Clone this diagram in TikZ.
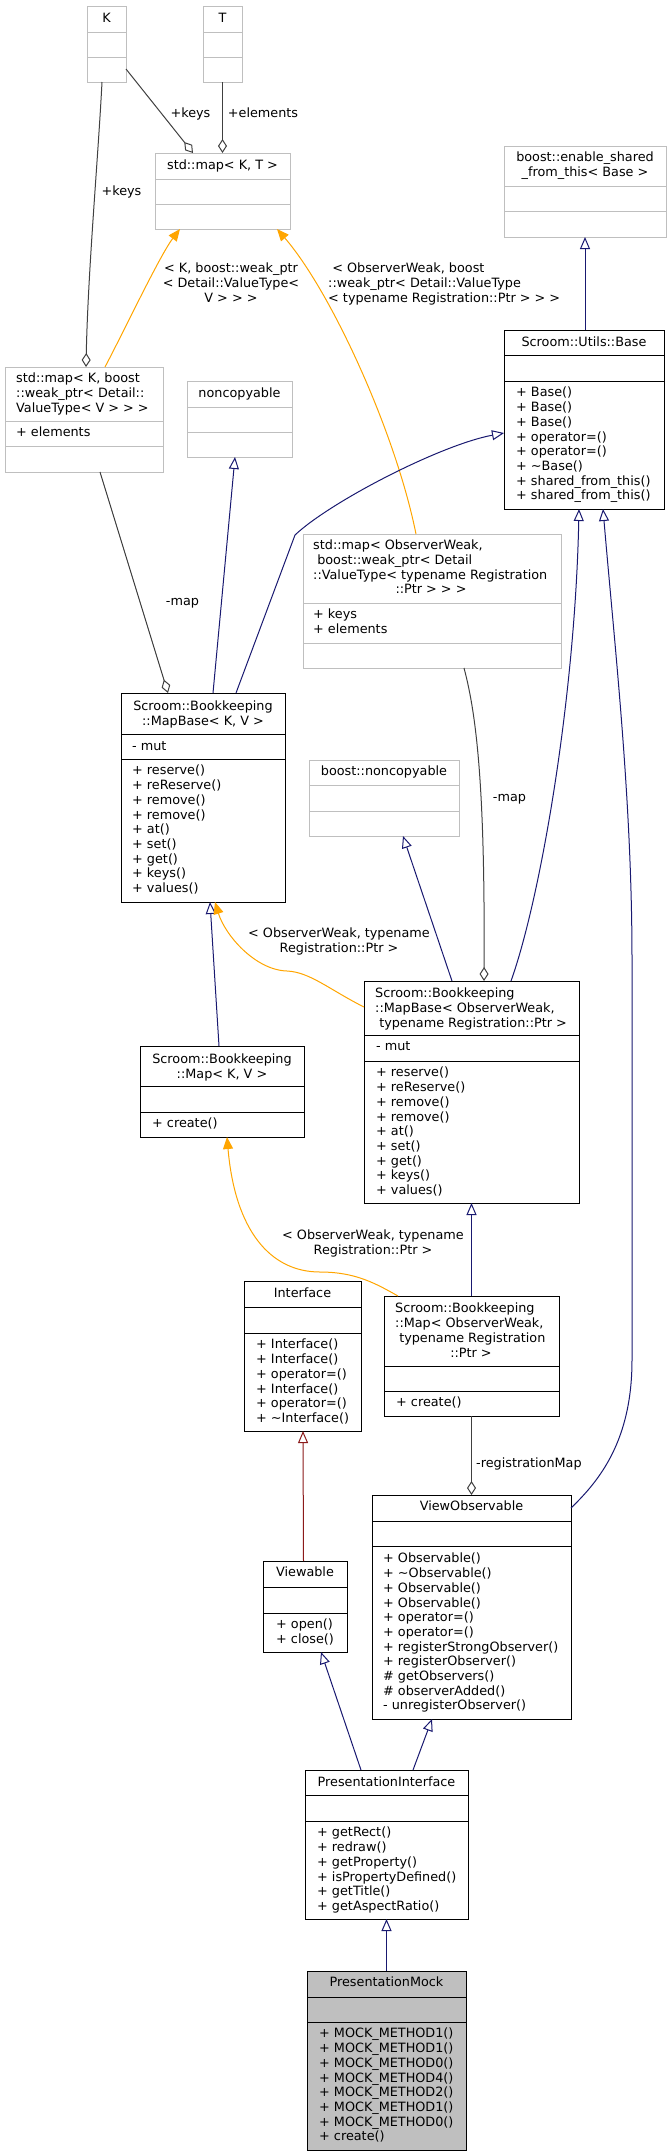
\documentclass[tikz,border=0pt]{standalone}
\usepackage{fontspec}
\setmainfont{DejaVu Sans}
\usetikzlibrary{arrows.meta,fit}
\definecolor{mblue}{HTML}{191970}
\definecolor{usegray}{HTML}{404040}
\definecolor{boxgray}{HTML}{BFBFBF}
\definecolor{tmpl}{HTML}{FFA500}
\definecolor{privred}{HTML}{8B1A1A}
\definecolor{mockfill}{HTML}{BFBFBF}
\newcommand\hs{\rule{0pt}{10pt}}
% #1 fill, #2 name, #3 colour, #4 x1, #5 y1, #6 x2, #7 y2, #8 sep1, #9 sep2
\newcommand\umlcls[9][white]{%
  \node[draw=#3, fill=#1, line width=1pt, inner sep=0pt, outer sep=0pt, fit={(#4,#5) (#6,#7)}] (#2) {};
  \draw[#3, line width=1pt] (#4,#8) -- (#6,#8) (#4,#9) -- (#6,#9);
}
\begin{document}
\begin{tikzpicture}[x=1pt,y=-1pt,
  fnt/.style={font=\fontsize{12.8}{14.7}\selectfont},
  ttl/.style={fnt, anchor=north, align=center, inner sep=0pt},
  ttll/.style={fnt, anchor=north west, align=left, inner sep=0pt},
  mem/.style={fnt, anchor=north west, align=left, inner sep=0pt},
  lbl/.style={fnt, anchor=north, align=center, inner sep=0pt},
  inh/.style={draw=mblue, line width=1pt, -{Triangle[open, length=12pt, width=10pt]}},
  prv/.style={draw=privred, line width=1pt, -{Triangle[open, length=12pt, width=10pt]}},
  tmp/.style={draw=tmpl, line width=1pt, -{Triangle[length=12pt, width=10pt]}},
  use/.style={draw=usegray, line width=1pt, {Diamond[open, length=14pt, width=9pt]}-},
]
\useasboundingbox (0,0) rectangle (671,2153);

% ---------- class boxes ----------
\umlcls{K}{boxgray}{87}{6}{126}{82}{32}{57}
\umlcls{T}{boxgray}{203}{6}{242}{82}{32}{57}
\umlcls{mapKT}{boxgray}{155}{153}{290}{229}{179}{204}
\umlcls{enable}{boxgray}{504}{146}{666}{237}{186}{211}
\umlcls{mapKV}{boxgray}{5}{367}{163}{472}{421}{446}
\umlcls{noncopyable}{boxgray}{187}{381}{292}{457}{407}{432}
\umlcls{Base}{black}{504}{330}{664}{509}{355}{381}
\umlcls{MapBaseKV}{black}{121}{693}{285}{902}{734}{759}
\umlcls{mapOW}{boxgray}{303}{534}{561}{668}{603}{643}
\umlcls{bnon}{boxgray}{309}{760}{459}{836}{785}{811}
\umlcls{MapBaseOW}{black}{364}{981}{579}{1203}{1035}{1061}
\umlcls{MapKV}{black}{140}{1046}{304}{1137}{1086}{1112}
\umlcls{Interface}{black}{244}{1281}{361}{1431}{1307}{1333}
\umlcls{MapOW}{black}{384}{1296}{559}{1416}{1366}{1391}
\umlcls{VO}{black}{372}{1495}{571}{1719}{1521}{1546}
\umlcls{Viewable}{black}{263}{1561}{347}{1652}{1587}{1613}
\umlcls{PI}{black}{305}{1770}{468}{1919}{1795}{1821}
\umlcls[mockfill]{PM}{black}{307}{1971}{466}{2150}{1997}{2022}

% ---------- texts ----------
\node[ttl] (K-t) at (106.5,12.7) {\hs K};
\node[ttl] (T-t) at (222.5,12.7) {\hs T};
\node[ttl] (mapKT-t) at (222.5,159.7) {\hs std::map< K, T >};
\node[ttl] (enable-t) at (585,151.7) {\hs boost::enable\_shared\\\_from\_this< Base >};
\node[ttll] (mapKV-t) at (16,372.7) {\hs std::map< K, boost\\::weak\_ptr< Detail::\\ValueType< V > > >};
\node[mem] (mapKV-m) at (16,426.7) {\hs + elements};
\node[ttl] (noncopyable-t) at (239.5,387.7) {\hs noncopyable};
\node[ttl] (Base-t) at (584,336.7) {\hs Scroom::Utils::Base};
\node[mem] (Base-m) at (516,386.7) {\hs + Base()\\+ Base()\\+ Base()\\+ operator=()\\+ operator=()\\+ \textasciitilde Base()\\+ shared\_from\_this()\\+ shared\_from\_this()};
\node[ttl] (MapBaseKV-t) at (203,700.7) {\hs Scroom::Bookkeeping\\::MapBase< K, V >};
\node[mem] (MapBaseKV-a) at (132,740.7) {\hs - mut};
\node[mem] (MapBaseKV-m) at (132,764.7) {\hs + reserve()\\+ reReserve()\\+ remove()\\+ remove()\\+ at()\\+ set()\\+ get()\\+ keys()\\+ values()};
\node[ttll] (mapOW-t) at (313,539.7) {\hs std::map< ObserverWeak,\\\ boost::weak\_ptr< Detail\\::ValueType< typename Registration};
\node[ttl] (mapOW-t2) at (431,583.7) {\hs ::Ptr > > >};
\node[mem] (mapOW-a) at (313,608.7) {\hs + keys\\+ elements};
\node[ttl] (bnon-t) at (384,765.7) {\hs boost::noncopyable};
\node[ttll] (MapBaseOW-t) at (375,987.7) {\hs Scroom::Bookkeeping\\::MapBase< ObserverWeak,\\\ typename Registration::Ptr >};
\node[mem] (MapBaseOW-a) at (376,1040.7) {\hs - mut};
\node[mem] (MapBaseOW-m) at (376,1066.7) {\hs + reserve()\\+ reReserve()\\+ remove()\\+ remove()\\+ at()\\+ set()\\+ get()\\+ keys()\\+ values()};
\node[ttl] (MapKV-t) at (222,1053.7) {\hs Scroom::Bookkeeping\\::Map< K, V >};
\node[mem] (MapKV-m) at (152,1117.7) {\hs + create()};
\node[ttl] (Interface-t) at (302.5,1287.7) {\hs Interface};
\node[mem] (Interface-m) at (256,1338.7) {\hs + Interface()\\+ Interface()\\+ operator=()\\+ Interface()\\+ operator=()\\+ \textasciitilde Interface()};
\node[ttll] (MapOW-t) at (395,1302.7) {\hs Scroom::Bookkeeping\\::Map< ObserverWeak,\\\ typename Registration};
\node[ttl] (MapOW-t2) at (471,1347) {\hs ::Ptr >};
\node[mem] (MapOW-m) at (396,1396.7) {\hs + create()};
\node[ttl] (VO-t) at (471.5,1500.7) {\hs ViewObservable};
\node[mem] (VO-m) at (383,1552.7) {\hs + Observable()\\+ \textasciitilde Observable()\\+ Observable()\\+ Observable()\\+ operator=()\\+ operator=()\\+ registerStrongObserver()\\+ registerObserver()\\\# getObservers()\\\# observerAdded()\\- unregisterObserver()};
\node[ttl] (Viewable-t) at (305,1566.7) {\hs Viewable};
\node[mem] (Viewable-m) at (276,1618.7) {\hs + open()\\+ close()};
\node[ttl] (PI-t) at (386.5,1776.7) {\hs PresentationInterface};
\node[mem] (PI-m) at (317,1826.7) {\hs + getRect()\\+ redraw()\\+ getProperty()\\+ isPropertyDefined()\\+ getTitle()\\+ getAspectRatio()};
\node[ttl] (PM-t) at (386.5,1976.7) {\hs PresentationMock};
\node[mem] (PM-m) at (319,2027.7) {\hs + MOCK\_METHOD1()\\+ MOCK\_METHOD1()\\+ MOCK\_METHOD0()\\+ MOCK\_METHOD4()\\+ MOCK\_METHOD2()\\+ MOCK\_METHOD1()\\+ MOCK\_METHOD0()\\+ create()};

% ---------- connectors ----------
\draw[use] ([xshift=-29.5pt]mapKT.north) -- ([yshift=13pt]K.south east);
\draw[use] (mapKT.north) -- (T.south);
\draw[use] ([xshift=2pt]mapKV.north) .. controls (88,270) and (98,160) .. ([xshift=-4.5pt]K.south);
\draw[tmp] ([xshift=21pt]mapKV.north) .. controls (122,335) and (160,255) .. ([xshift=-42.5pt]mapKT.south);
\draw[tmp] ([xshift=-16pt]mapOW.north) .. controls (395,430) and (330,290) .. ([xshift=54.5pt]mapKT.south);
\draw[inh] ([xshift=1pt]Base.north) -- (enable.south);
\draw[use] ([xshift=-35pt]MapBaseKV.north) -- ([xshift=16pt]mapKV.south);
\draw[inh] ([xshift=10pt]MapBaseKV.north) -- ([xshift=-4.5pt]noncopyable.south);
\draw[inh] ([xshift=33pt]MapBaseKV.north) -- (295,535) .. controls (330,502) and (440,445) .. ([yshift=-13.5pt]Base.west);
\draw[use] ([xshift=12.5pt]MapBaseOW.north) .. controls (485,800) and (478,720) .. ([xshift=32pt]mapOW.south);
\draw[inh] ([xshift=-19.5pt]MapBaseOW.north) -- ([xshift=19pt]bnon.south);
\draw[inh] ([xshift=39.5pt]MapBaseOW.north) .. controls (540,900) and (575,700) .. ([xshift=-5pt]Base.south);
\draw[inh] ([xshift=-3pt]MapKV.north) -- ([xshift=7pt]MapBaseKV.south);
\draw[tmp] ([yshift=85pt]MapBaseOW.west) .. controls (330,990) and (310,972) .. (287,971) .. controls (255,970) and (225,935) .. ([xshift=12pt]MapBaseKV.south);
\draw[inh] (MapOW.north) -- (MapBaseOW.south);
\draw[tmp] ([xshift=14pt]MapOW.north west) .. controls (375,1283) and (355,1272) .. (320,1272) .. controls (270,1272) and (235,1230) .. ([xshift=5pt]MapKV.south);
\draw[prv] ([xshift=-1.5pt]Viewable.north) -- ([xshift=0.5pt]Interface.south);
\draw[use] (VO.north) -- (MapOW.south);
\draw[inh] ([yshift=-13pt]VO.north east) .. controls (600,1480) and (632,1440) .. (632,1360) -- (632,960) .. controls (632,800) and (615,650) .. ([xshift=19pt]Base.south);
\draw[inh] ([xshift=56pt]PI.north west) -- ([xshift=16pt]Viewable.south);
\draw[inh] ([xshift=26.5pt]PI.north) -- ([xshift=-39.5pt]VO.south);
\draw[inh] (PM.north) -- (PI.south);

% ---------- connector labels ----------
\node[lbl] (l-keys1) at (190.5,107.7) {\hs +keys};
\node[lbl] (l-elements) at (263,107.7) {\hs +elements};
\node[lbl] (l-keys2) at (121.5,185.7) {\hs +keys};
\node[lbl] (l-kv) at (231,262.7) {\hs < K, boost::weak\_ptr\\< Detail::ValueType<\\V > > >};
\node[ttll] (l-ow) at (328,262.7) {\hs \ < ObserverWeak, boost\\::weak\_ptr< Detail::ValueType\\< typename Registration::Ptr > > >};
\node[lbl] (l-map1) at (182.5,595.7) {\hs -map};
\node[lbl] (l-map2) at (509.5,791.7) {\hs -map};
\node[lbl] (l-owt1) at (339,927.7) {\hs < ObserverWeak, typename\\Registration::Ptr >};
\node[lbl] (l-owt2) at (373,1229.7) {\hs < ObserverWeak, typename\\Registration::Ptr >};
\node[ttll] (l-reg) at (476,1457.7) {\hs -registrationMap};
\end{tikzpicture}
\end{document}
